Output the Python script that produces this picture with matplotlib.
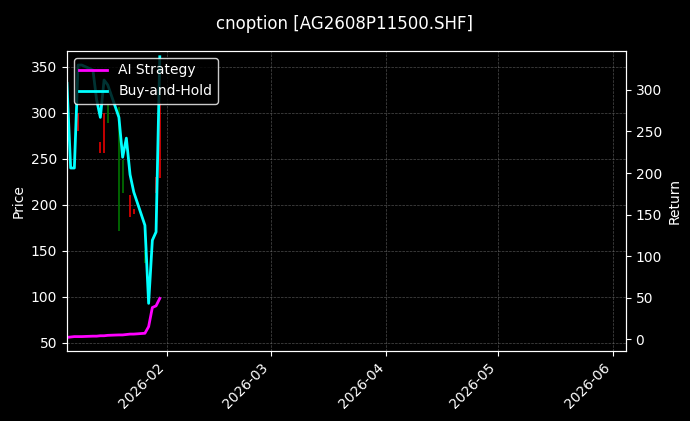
import matplotlib
matplotlib.use("Agg")
import matplotlib.pyplot as plt
import matplotlib.dates as mdates
import pandas as pd
import numpy as np

plt.style.use("dark_background")

dates = pd.to_datetime(["2026-01-05","2026-01-06","2026-01-07","2026-01-08","2026-01-09",
                        "2026-01-12","2026-01-13","2026-01-14","2026-01-15","2026-01-16",
                        "2026-01-19","2026-01-20","2026-01-21","2026-01-22","2026-01-23",
                        "2026-01-26","2026-01-27","2026-01-28","2026-01-29","2026-01-30"])
buy_hold = [308, 206, 206, 330, 330, 324, 288, 267, 312, 306,
            267, 219, 242, 198, 177, 137, 43, 119, 129, 340]
ai_strategy = [2, 2.5, 3, 3, 3, 3.5, 3.5, 4, 4, 4.5,
               5, 5, 5.5, 6, 6, 7, 15, 38, 40, 49]

candle_dates = pd.to_datetime(["2026-01-08","2026-01-14","2026-01-15","2026-01-16","2026-01-19",
                               "2026-01-20","2026-01-22","2026-01-23","2026-01-26","2026-01-29","2026-01-30"])
candle_open = [280, 256, 300, 289, 306, 249, 187, 195, 151, 213, 229]
candle_close = [300, 268, 256, 309, 171, 213, 211, 190, 137, 230, 311]
candle_color = ["red","red","red","green","green","green","red","red","green","red","red"]

fig = plt.figure(figsize=(6.9, 4.21), dpi=100, facecolor="black")
ax = fig.add_axes([0.097, 0.166, 0.81, 0.713])
ax.set_facecolor("black")
ax.vlines(candle_dates, candle_open, candle_close, colors=candle_color, linewidth=1.2, alpha=0.9)
ax.set_ylim(41, 367)
ax.set_ylabel("Price")
ax.grid(True, color="gray", linestyle="--", linewidth=0.5, alpha=0.6)

ax2 = ax.twinx()
ax2.plot(dates, ai_strategy, color="magenta", linewidth=2, label="AI Strategy")
ax2.plot(dates, buy_hold, color="cyan", linewidth=2, label="Buy-and-Hold")
ax2.set_ylim(-14.5, 347)
ax2.set_ylabel("Return")
ax2.legend(loc="upper left", facecolor="black", edgecolor="white", framealpha=0.8)

ax.set_xlim(pd.Timestamp("2026-01-05"), pd.Timestamp("2026-06-04 12:00"))
ax.xaxis.set_major_locator(mdates.MonthLocator())
ax.xaxis.set_major_formatter(mdates.DateFormatter("%Y-%m"))
for lab in ax.get_xticklabels():
    lab.set_rotation(45)
    lab.set_ha("right")
fig.suptitle("cnoption [AG2608P11500.SHF]", y=0.965)
fig.savefig("out.png", dpi=100, facecolor="black")
